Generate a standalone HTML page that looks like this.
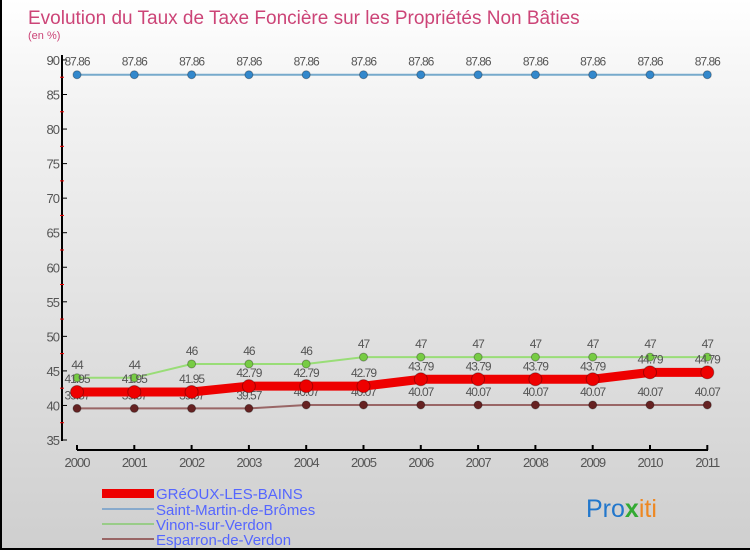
<!DOCTYPE html>
<html><head><meta charset="utf-8"><style>
body{margin:0;width:750px;height:550px;overflow:hidden;font-family:"Liberation Sans",sans-serif}
#c{position:absolute;left:0;top:0;width:750px;height:550px;background:linear-gradient(#ffffff,#f2f2f2 20%,#cfcfcf);border-left:2px solid #000;border-bottom:2px solid #000;box-sizing:border-box}
</style></head><body>
<div id="c">
<svg id="s" width="750" height="550" style="position:absolute;left:0;top:0">
<text x="26" y="24" font-size="19" fill="#cc4477">Evolution du Taux de Taxe Foncière sur les Propriétés Non Bâties</text>
<text x="26" y="39" font-size="11" fill="#cc4477">(en %)</text>
<g id="g"></g>
<g font-size="15" fill="#5566ff">
<rect x="100" y="489" width="52" height="9" fill="#ee0000"/>
<text x="154" y="499">GRéOUX-LES-BAINS</text>
<rect x="100" y="508" width="52" height="2" fill="#88aacc"/>
<text x="154" y="515">Saint-Martin-de-Brômes</text>
<rect x="100" y="523" width="52" height="2" fill="#99cc88"/>
<text x="154" y="530">Vinon-sur-Verdon</text>
<rect x="100" y="538" width="52" height="2" fill="#996666"/>
<text x="154" y="545">Esparron-de-Verdon</text>
</g>
<text x="584" y="517" font-size="25"><tspan fill="#2277cc">Pro</tspan><tspan fill="#33aa33" font-weight="bold">x</tspan><tspan fill="#ee8822">iti</tspan></text>
</svg></div>
<script>
const years=["2000","2001","2002","2003","2004","2005","2006","2007","2008","2009","2010","2011"];
const yTicks=[35,40,45,50,55,60,65,70,75,80,85,90];
const saintMartin=[87.86,87.86,87.86,87.86,87.86,87.86,87.86,87.86,87.86,87.86,87.86,87.86];
const vinon=[44,44,46,46,46,47,47,47,47,47,47,47];
const greoux=[41.95,41.95,41.95,42.79,42.79,42.79,43.79,43.79,43.79,43.79,44.79,44.79];
const esparron=[39.57,39.57,39.57,39.57,40.07,40.07,40.07,40.07,40.07,40.07,40.07,40.07];
const NS="http://www.w3.org/2000/svg",g=document.getElementById('g');
const X=i=>75+i*57.3, Y=v=>440-(v-35)*6.91;
function mk(t,a,p){const e=document.createElementNS(NS,t);for(const k in a)e.setAttribute(k,a[k]);(p||g).appendChild(e);return e;}
let e=mk('line',{x1:60,y1:55,x2:60,y2:441,stroke:'#000','stroke-width':2});


e=mk('line',{x1:75,y1:450,x2:706,y2:450,stroke:'#000','stroke-width':2});


yTicks.forEach((v,i)=>{
 mk('line',{x1:60,y1:Y(v),x2:65,y2:Y(v),stroke:'#000'});
 if(i<yTicks.length-1) mk('line',{x1:58,y1:Y(v+2.5),x2:62,y2:Y(v+2.5),stroke:'#e00'});
 const t=mk('text',{x:57,y:Y(v)+5,'text-anchor':'end','font-size':13,fill:'#555','letter-spacing':'-1'});t.textContent=v;
 
 
});
years.forEach((y,i)=>{
 mk('line',{x1:X(i),y1:445,x2:X(i),y2:450,stroke:'#000','stroke-width':2});
 const t=mk('text',{x:X(i),y:467,'text-anchor':'middle','font-size':13,fill:'#555','letter-spacing':'-1'});t.textContent=y;
 
 
});
function series(d,name,lc,pc,lw,r){
 const grp=mk('g',{});
 
 
 mk('polyline',{points:d.map((v,i)=>X(i)+','+Y(v)).join(' '),fill:'none',stroke:lc,'stroke-width':lw},grp);
 d.forEach((v,i)=>{
  const c=mk('circle',{cx:X(i),cy:Y(v),r:r,fill:pc,stroke:'rgba(0,0,0,0.3)'},grp);
  
  
  const t=mk('text',{x:X(i),y:Y(v)-9,'text-anchor':'middle','font-size':12,fill:'#555','letter-spacing':'-1'},grp);
  t.textContent=String(v);
  
  
 });
}
series(esparron,'esparron','#996666','#662222',2,4);
series(vinon,'vinon','#99dd77','#77cc44',2,4);
series(greoux,'greoux','#ee0000','#ee0000',9,6.5);
series(saintMartin,'saint-martin','#77aacc','#3388cc',2,4);
</script>
</body></html>
